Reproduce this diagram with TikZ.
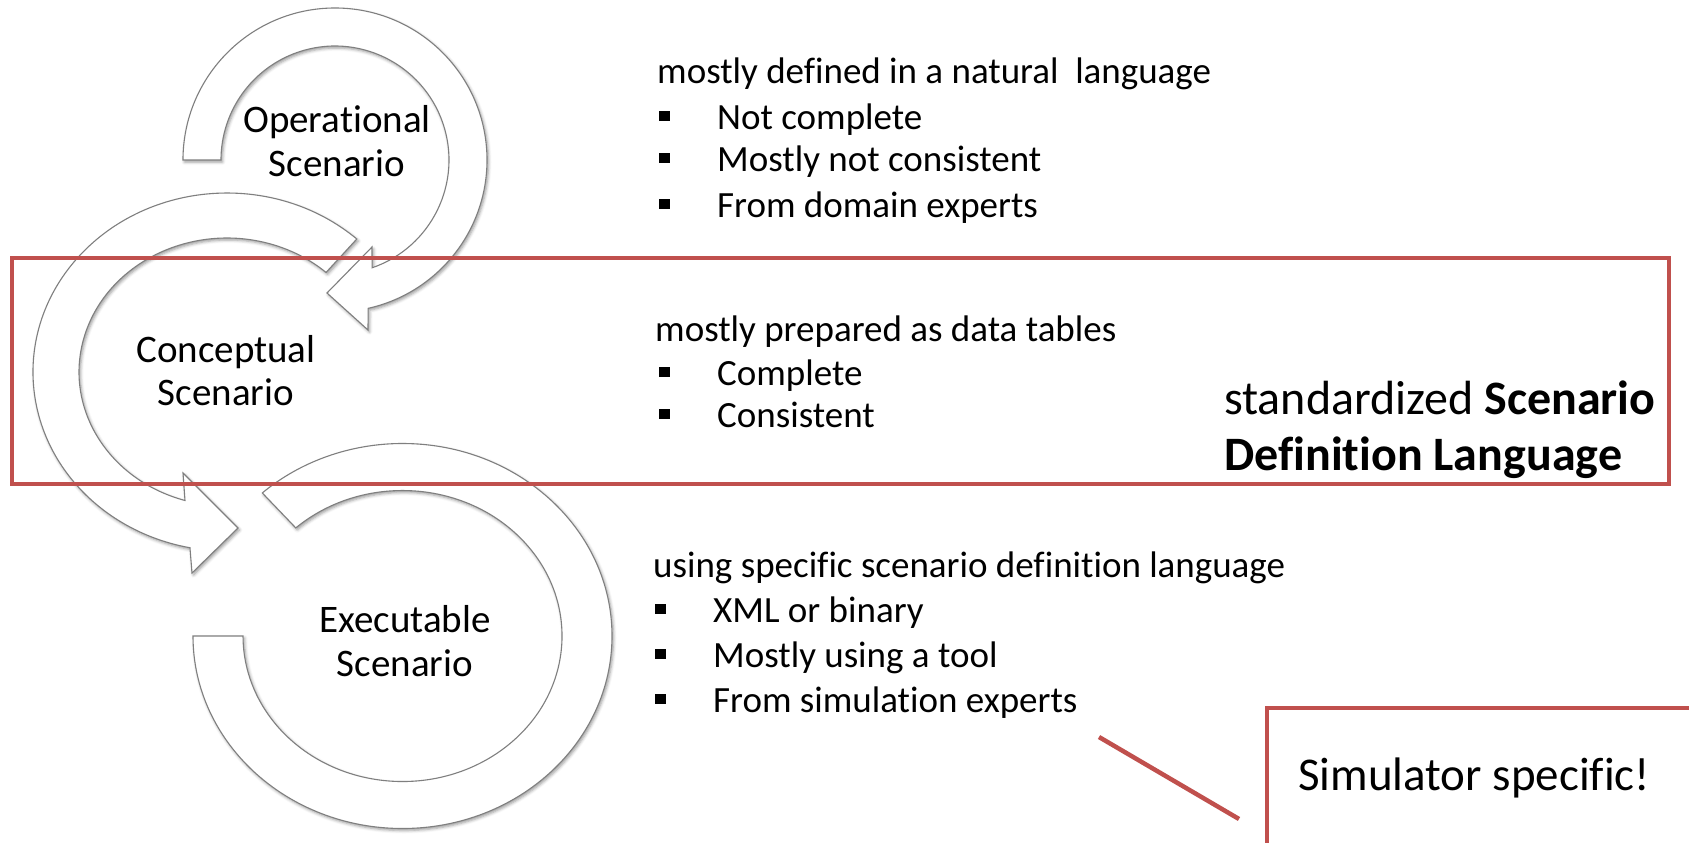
\documentclass[tikz,border=0pt]{standalone}
\usepackage{fontspec}
\setmainfont{Carlito}[Ligatures=NoCommon]
\usetikzlibrary{shadows.blur}
\definecolor{accentred}{HTML}{C0504D}
\definecolor{ringline}{HTML}{7F7F7F}
\newcommand\sqitem{\makebox[58pt][l]{\rule[8pt]{10.5pt}{10.5pt}}}
\begin{document}
\begin{tikzpicture}[x=1pt,y=1pt,
  ring/.style={fill=white, draw=ringline, line width=1.1pt, line join=miter,
    blur shadow={shadow xshift=1.5pt, shadow yshift=-2pt,
      shadow blur radius=3pt, shadow opacity=40}},
  label/.style={font=\fontsize{39}{46}\selectfont, anchor=base, inner sep=0pt},
  body/.style={font=\fontsize{37}{44}\selectfont, anchor=base west, inner sep=0pt},
  big/.style={font=\fontsize{48}{57}\selectfont, anchor=base west, inner sep=0pt},
  frame/.style={draw=accentred, line width=4.5pt}]
\useasboundingbox (0,0) rectangle (1689,-843);
\clip (0,0) rectangle (1689,-843);

% executable ring: open band, no head
\draw[ring] (193,-636)
  arc[start angle=180, end angle=492, x radius=209.5, y radius=192.5]
  -- (295.8,-527.9)
  arc[start angle=492, end angle=180, x radius=159.5, y radius=145.5]
  -- cycle;

% conceptual ring with head pointing to the executable ring
\draw[ring] (356.8,-239)
  arc[start angle=48, end angle=259, x radius=194, y radius=179]
  -- (192,-573) -- (238,-528) -- (183,-473) -- (185,-500.5)
  arc[start angle=253.5, end angle=48, x radius=148, y radius=134]
  -- cycle;

% operational ring with head pointing to the conceptual ring
\draw[ring] (183,-160)
  arc[start angle=180, end angle=-77.4, radius=152]
  -- (368,-330) -- (327,-293) -- (372,-247) -- (372.1,-267.8)
  arc[start angle=-71, end angle=180, radius=114]
  -- cycle;

% ring labels
\node[label] (op1) at (337,-132) {Operational};
\node[label] (op2) at (337,-176) {Scenario};
\node[label] (co1) at (226,-362) {Conceptual};
\node[label] (co2) at (226,-405) {Scenario};
\node[label] (ex1) at (405,-632) {Executable};
\node[label] (ex2) at (405,-676) {Scenario};

% operational description
\node[body] (t0) at (657,-83) {mostly defined in a natural~ language};
\node[body] (t1) at (659,-129) {\sqitem Not complete};
\node[body] (t2) at (659,-171) {\sqitem Mostly not consistent};
\node[body] (t3) at (659,-217) {\sqitem From domain experts};

% conceptual description
\node[body] (m0) at (655,-341) {mostly prepared as data tables};
\node[body] (m1) at (659,-385) {\sqitem Complete};
\node[body] (m2) at (659,-427) {\sqitem Consistent};

% executable description
\node[body] (b0) at (653,-577) {using specific scenario definition language};
\node[body] (b1) at (655,-622) {\sqitem XML or binary};
\node[body] (b2) at (655,-667) {\sqitem Mostly using a tool};
\node[body] (b3) at (655,-712) {\sqitem From simulation experts};

% standard language frame
\draw[frame] (12,-258) rectangle (1669,-484);
\node[big] (std1) at (1224,-414) {standardized \textbf{Scenario}};
\node[big] (std2) at (1224,-470) {\textbf{Definition Language}};

% simulator note with its pointer line
\draw[frame] (1267,-708) rectangle (1730,-880);
\node[big, font=\fontsize{47}{56}\selectfont] (sim) at (1298,-790) {Simulator specific!};
\coordinate (calloutA) at (1099,-737);
\coordinate (calloutB) at (1239,-819);
\draw[accentred, line width=4.5pt] (calloutA) -- (calloutB);
\end{tikzpicture}
\end{document}
